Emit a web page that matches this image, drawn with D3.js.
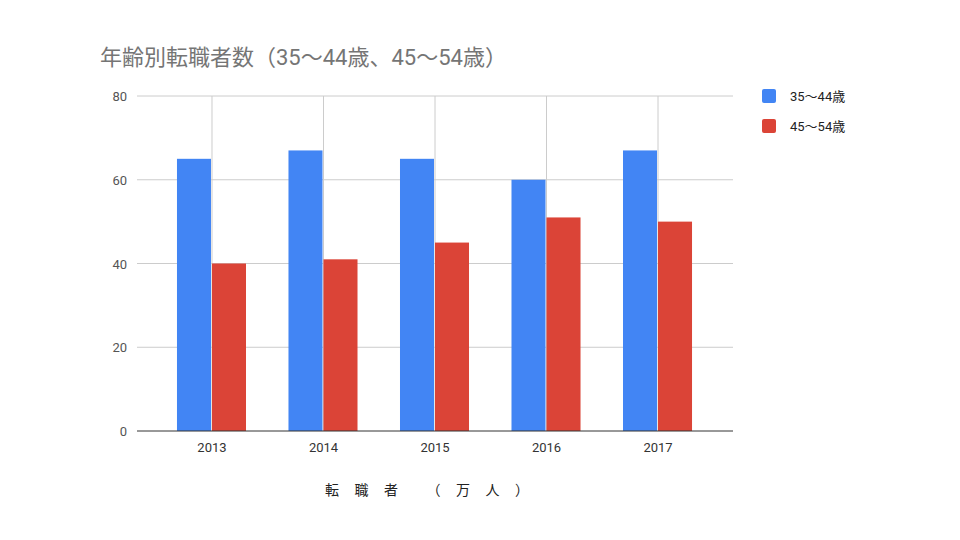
<!DOCTYPE html>
<html><head><meta charset="utf-8">
<script src="https://cdn.jsdelivr.net/npm/d3@7"></script>
<style>body{margin:0;background:#fff;font-family:Roboto,"Noto Sans CJK JP",sans-serif}</style>
</head><body><svg id="c" width="960" height="540"></svg>
<script>
const years = ["2013","2014","2015","2016","2017"];
const seriesNames = ["35〜44歳","45〜54歳"];
const s1 = [65,67,65,60,67];
const s2 = [40,41,45,51,50];
const yTicks = [0,20,40,60,80];
const colors = ["#4285f4","#db4437"];
const title = "年齢別転職者数（35〜44歳、45〜54歳）";
const xTitle = "転 職 者 　（ 万 人 ）";

const svg = d3.select("#c");
const L=137,R=733,T=96,B=431;
const x = d3.scaleBand().domain(years).range([L,R]).paddingInner(0.372).paddingOuter(0.3585);
const xs = d3.scaleBand().domain([0,1]).range([0,x.bandwidth()]);
const y = d3.scaleLinear().domain([0,80]).range([B,T]);
const font = "Roboto,'Noto Sans CJK JP',sans-serif";

svg.append("g").selectAll("line").data(yTicks.slice(1)).join("line")
 .attr("x1",L).attr("x2",R).attr("y1",d=>y(d)).attr("y2",d=>y(d)).attr("stroke","#cccccc");
svg.append("g").selectAll("line").data(years).join("line")
 .attr("x1",d=>x(d)+x.bandwidth()/2).attr("x2",d=>x(d)+x.bandwidth()/2).attr("y1",T).attr("y2",B).attr("stroke","#cccccc");

const data=[s1,s2];
data.forEach((s,i)=>{
 svg.append("g").selectAll("rect").data(s).join("rect")
  .attr("x",(d,j)=>x(years[j])+xs(i)).attr("width",xs.bandwidth()-1)
  .attr("y",d=>y(d)).attr("height",d=>B-y(d)).attr("fill",colors[i]);
});
svg.append("line").attr("x1",L).attr("x2",R).attr("y1",B).attr("y2",B).attr("stroke","#333");

svg.append("g").selectAll("text").data(yTicks).join("text")
 .attr("x",127).attr("y",d=>y(d)+5).attr("text-anchor","end").attr("font-size",13).attr("fill","#555").attr("font-family",font).text(d=>d);
svg.append("g").selectAll("text").data(years).join("text")
 .attr("x",d=>x(d)+x.bandwidth()/2).attr("y",452).attr("text-anchor","middle").attr("font-size",13).attr("fill","#333").attr("font-family",font).text(d=>d);

svg.append("text").attr("x",100).attr("y",65).attr("font-size",22).attr("fill","#757575").attr("font-family",font).text(title);
svg.append("text").attr("x",430).attr("y",495).attr("text-anchor","middle").attr("font-size",14).attr("letter-spacing","6px").attr("fill","#222").attr("font-family",font).text(xTitle);

seriesNames.forEach((n,i)=>{
 const yy=89+i*30;
 svg.append("rect").attr("x",762).attr("y",yy).attr("width",14).attr("height",14).attr("rx",2).attr("fill",colors[i]);
 svg.append("text").attr("x",790).attr("y",yy+12).attr("font-size",13).attr("fill","#222").attr("font-family",font).text(n);
});
</script></body></html>
